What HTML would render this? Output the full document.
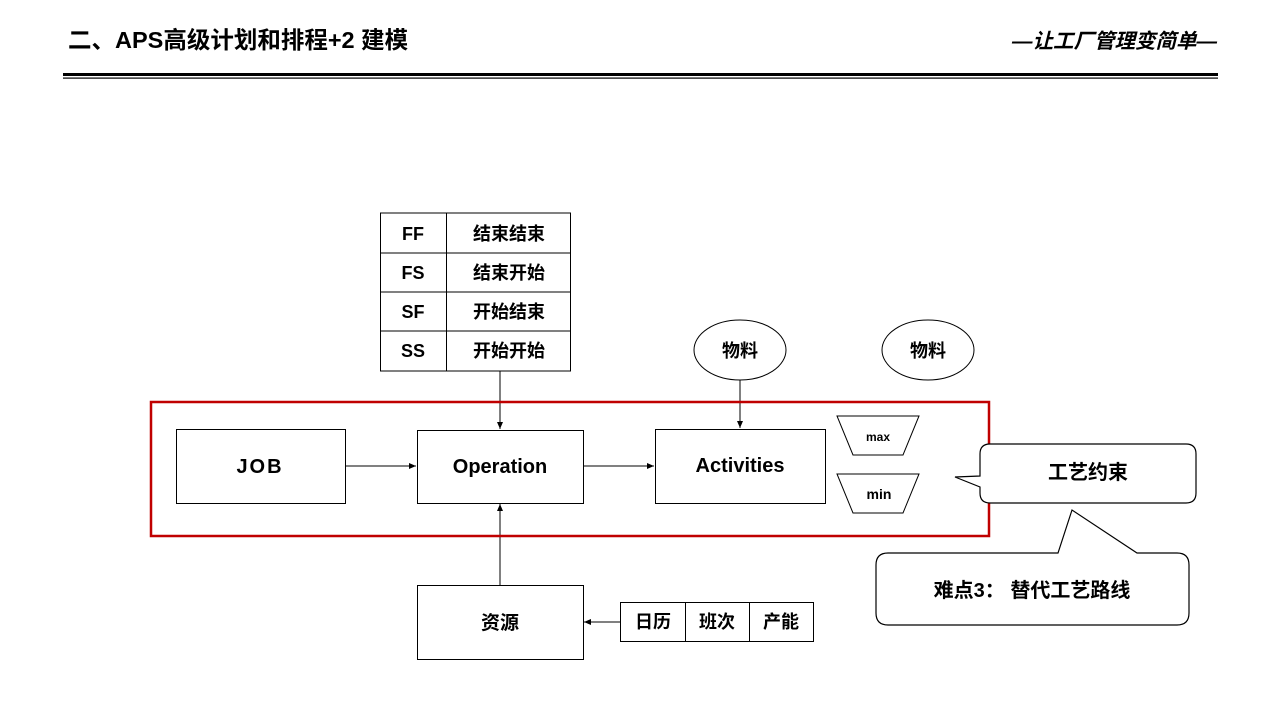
<!DOCTYPE html>
<html><head><meta charset="utf-8"><style>
body{margin:0;background:#fff;width:1280px;height:720px;overflow:hidden}
svg text{font-family:"Liberation Sans","Noto Sans CJK SC",sans-serif;font-weight:bold;fill:#000}
</style></head><body>
<svg width="1280" height="720" viewBox="0 0 1280 720" xmlns="http://www.w3.org/2000/svg">
<defs><marker id="a" markerWidth="8" markerHeight="8" refX="7" refY="4" orient="auto" markerUnits="userSpaceOnUse"><path d="M0,1 L7,4 L0,7z" fill="#000"/></marker></defs>
<text x="68" y="48" font-size="23.5">二、APS高级计划和排程+2 建模</text>
<text x="1217" y="48" font-size="20.5" text-anchor="end" font-style="italic">—让工厂管理变简单—</text>
<rect x="63" y="73" width="1155" height="3" fill="#000"/>
<rect x="63" y="77.5" width="1155" height="1.2" fill="#000"/>
<g stroke="#000" stroke-width="1" fill="none">
<line x1="380" y1="213" x2="571" y2="213"/><line x1="380" y1="253" x2="571" y2="253"/><line x1="380" y1="292" x2="571" y2="292"/><line x1="380" y1="331" x2="571" y2="331"/><line x1="380" y1="371" x2="571" y2="371"/>
<line x1="380.5" y1="213" x2="380.5" y2="371"/><line x1="446.5" y1="213" x2="446.5" y2="371"/><line x1="570.5" y1="213" x2="570.5" y2="371"/>
<rect x="176.5" y="429.5" width="169" height="74"/>
<rect x="417.5" y="430.5" width="166" height="73"/>
<rect x="655.5" y="429.5" width="170" height="74"/>
<rect x="417.5" y="585.5" width="166" height="74"/>
<rect x="620.5" y="602.5" width="193" height="39"/><line x1="685.5" y1="602" x2="685.5" y2="642"/><line x1="749.5" y1="602" x2="749.5" y2="642"/>
<ellipse cx="740" cy="350" rx="46" ry="30"/><ellipse cx="928" cy="350" rx="46" ry="30"/>
<path d="M837,416 L919,416 L903,455 L853,455Z"/><path d="M837,474 L919,474 L903,513 L853,513Z"/>
<line x1="345" y1="466" x2="416" y2="466" marker-end="url(#a)"/>
<line x1="583" y1="466" x2="654" y2="466" marker-end="url(#a)"/>
<line x1="500" y1="371" x2="500" y2="429" marker-end="url(#a)"/>
<line x1="740" y1="380" x2="740" y2="428" marker-end="url(#a)"/>
<line x1="500" y1="585" x2="500" y2="504" marker-end="url(#a)"/>
<line x1="620" y1="622" x2="584" y2="622" marker-end="url(#a)"/>
</g>
<rect x="151" y="402" width="838" height="134" fill="none" stroke="#c00000" stroke-width="2.5"/>
<path d="M992,444 L1186,444 Q1196,444 1196,454 L1196,493 Q1196,503 1186,503 L990,503 Q980,503 980,493 L980,487 L955,477 L980,476 L980,454 Q980,444 990,444Z" fill="#fff" stroke="#000" stroke-width="1.2"/>
<path d="M888,553 L1058,553 L1072,510 L1137,553 L1177,553 Q1189,553 1189,565 L1189,613 Q1189,625 1177,625 L888,625 Q876,625 876,613 L876,565 Q876,553 888,553Z" fill="#fff" stroke="#000" stroke-width="1.2"/>
<g font-size="18" text-anchor="middle">
<text x="413" y="240">FF</text><text x="413" y="279">FS</text><text x="413" y="318">SF</text><text x="413" y="357">SS</text>
<text x="509" y="240" font-size="18">结束结束</text><text x="509" y="279" font-size="18">结束开始</text><text x="509" y="318" font-size="18">开始结束</text><text x="509" y="357" font-size="18">开始开始</text>
<text x="260" y="473" font-size="20" letter-spacing="2">JOB</text>
<text x="500" y="473" font-size="20">Operation</text>
<text x="740" y="472" font-size="20">Activities</text>
<text x="740" y="357">物料</text><text x="928" y="357">物料</text>
<text x="878" y="441" font-size="12">max</text><text x="879" y="499" font-size="14">min</text>
<text x="500" y="629" font-size="19">资源</text>
<text x="653" y="628">日历</text><text x="717" y="628">班次</text><text x="781" y="628">产能</text>
<text x="1088" y="479" font-size="20">工艺约束</text>
<text x="1032" y="597" font-size="20">难点3： 替代工艺路线</text>
</g>
</svg>
</body></html>
